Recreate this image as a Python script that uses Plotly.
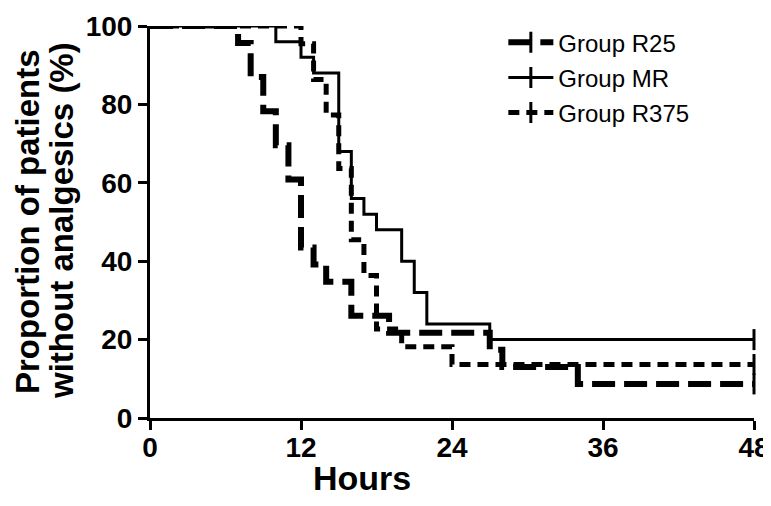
import plotly.graph_objects as go

# Kaplan-Meier style step data (hours, % of patients without analgesics)
r25_hours = [0, 7, 8, 9, 10, 11, 12, 13, 14, 16, 19, 27, 28, 34, 48]
r25_pct = [100, 95.65, 86.96, 78.26, 69.57, 60.87, 43.48, 39.13, 34.78, 26.09, 21.74, 17.39, 13.04, 8.70, 8.70]

mr_hours = [0, 10, 12, 13, 15, 16, 17, 18, 20, 21, 22, 27, 48]
mr_pct = [100, 96, 92, 88, 68, 56, 52, 48, 40, 32, 24, 20, 20]

r375_hours = [0, 12, 13, 14, 15, 16, 17, 18, 20, 24, 48]
r375_pct = [100, 95.45, 86.36, 77.27, 63.64, 45.45, 36.36, 22.73, 18.18, 13.64, 13.64]

series_names = ["Group R25", "Group MR", "Group R375"]
x_ticks = [0, 12, 24, 36, 48]
y_ticks = [0, 20, 40, 60, 80, 100]

FONT = "Arial, Liberation Sans, sans-serif"

styles = [
    dict(width=6, dash="23px,9px"),
    dict(width=3, dash="solid"),
    dict(width=5, dash="11px,7px"),
]
data = [(r25_hours, r25_pct), (mr_hours, mr_pct), (r375_hours, r375_pct)]

fig = go.Figure()
for i, ((hx, hy), name, st) in enumerate(zip(data, series_names, styles)):
    fig.add_trace(go.Scatter(
        x=hx, y=hy, mode="lines", line=dict(color="black", shape="hv", **st),
        showlegend=False, hoverinfo="skip", cliponaxis=False))
    fig.add_trace(go.Scatter(
        x=[hx[-1]], y=[hy[-1]], mode="markers",
        marker=dict(symbol="line-ns", size=15, line=dict(width=3, color="black")),
        showlegend=False, hoverinfo="skip", cliponaxis=False))
    fig.add_trace(go.Scatter(
        x=[None], y=[None], mode="lines+markers", name=name, legendgroup=name,
        line=dict(color="black", **st),
        marker=dict(symbol="line-ns", size=15, line=dict(width=3, color="black"))))

axis_common = dict(
    showgrid=False, zeroline=False, showline=True, linecolor="black", linewidth=3,
    ticks="outside", ticklen=9, tickwidth=3, tickcolor="black", automargin=False,
    ticklabeloverflow="allow",
    tickfont=dict(family=FONT, size=28, color="black", weight="bold"),
)

fig.update_layout(
    width=763, height=490,
    margin=dict(l=142, r=17, t=18, b=80),
    paper_bgcolor="white", plot_bgcolor="white",
    font=dict(family=FONT, color="black"),
    xaxis=dict(range=[0, 48], tickvals=x_ticks, ticktext=[str(v) for v in x_ticks],
               ticklabelstandoff=-7, **axis_common),
    yaxis=dict(range=[0, 100], tickvals=y_ticks, ticktext=[str(v) for v in y_ticks], **axis_common),
    legend=dict(x=0.585, y=1.015, xanchor="left", yanchor="top", bgcolor="rgba(0,0,0,0)",
                font=dict(family=FONT, size=24, color="black"), tracegroupgap=1,
                itemwidth=45),
    annotations=[
        dict(text="<b>Hours</b>", xref="paper", yref="paper", x=0.351, y=-0.153,
             xanchor="center", yanchor="middle", showarrow=False,
             font=dict(family=FONT, size=34, color="black")),
        dict(text="<b>Proportion of patients</b>", xref="paper", yref="paper",
             x=-0.2036, y=0.5, xanchor="center", yanchor="middle", showarrow=False, textangle=-90,
             font=dict(family=FONT, size=33, color="black")),
        dict(text="<b>without analgesics (%)</b>", xref="paper", yref="paper",
             x=-0.1474, y=0.505, xanchor="center", yanchor="middle", showarrow=False, textangle=-90,
             font=dict(family=FONT, size=33, color="black")),
    ],
)

fig.write_html("out.html")
